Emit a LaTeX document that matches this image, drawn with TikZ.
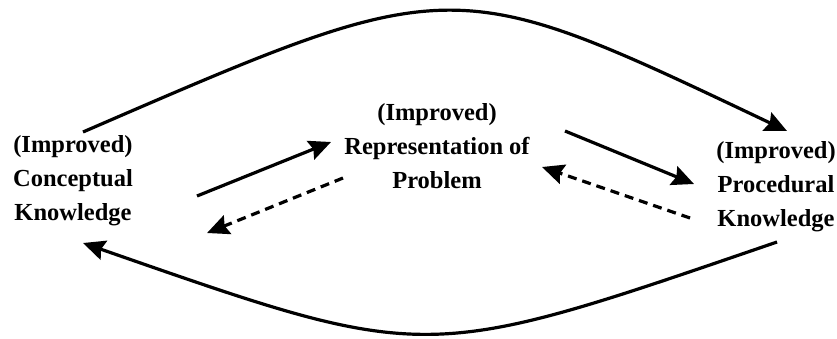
\documentclass[tikz,border=0pt]{standalone}
\usepackage{fontspec}
\setmainfont{Liberation Serif}
\usetikzlibrary{arrows.meta}
\begin{document}
\begin{tikzpicture}[x=1pt,y=-1pt,
  lbl/.style={align=center,font=\fontsize{24.5}{34}\selectfont\bfseries,inner sep=0pt},
  conn/.style={line width=3.2pt,-{Stealth[length=22pt,width=20pt,inset=3pt]}},
  dconn/.style={conn,dash pattern=on 9pt off 6pt}]
\useasboundingbox (0,0) rectangle (837,338);
\node[lbl] (ck) at (73,180.5) {(Improved)\\Conceptual\\Knowledge};
\node[lbl] (rp) at (437,146.5) {(Improved)\\Representation of\\Problem};
\node[lbl] (pk) at (776,187) {(Improved)\\Procedural\\Knowledge};
% connector end points
\coordinate (ckTop) at (83,132);
\coordinate (pkTop) at (787,131);
\coordinate (pkBot) at (777,242);
\coordinate (ckBot) at (83,243);
\coordinate (ckOut) at (197,196);
\coordinate (rpIn) at (331,142);
\coordinate (rpOutL) at (343,178);
\coordinate (ckIn) at (207,233);
\coordinate (rpOutR) at (565,131);
\coordinate (pkIn) at (694,184);
\coordinate (pkOut) at (690,218);
\coordinate (rpInR) at (542,167);
\draw[conn] (ckTop) .. controls (455,-29) and (450,-29) .. (pkTop);
\draw[conn] (pkBot) .. controls (421,364) and (431,364) .. (ckBot);
\draw[conn] (ckOut) -- (rpIn);
\draw[dconn] (rpOutL) -- (ckIn);
\draw[conn] (rpOutR) -- (pkIn);
\draw[dconn] (pkOut) -- (rpInR);
\end{tikzpicture}
\end{document}
